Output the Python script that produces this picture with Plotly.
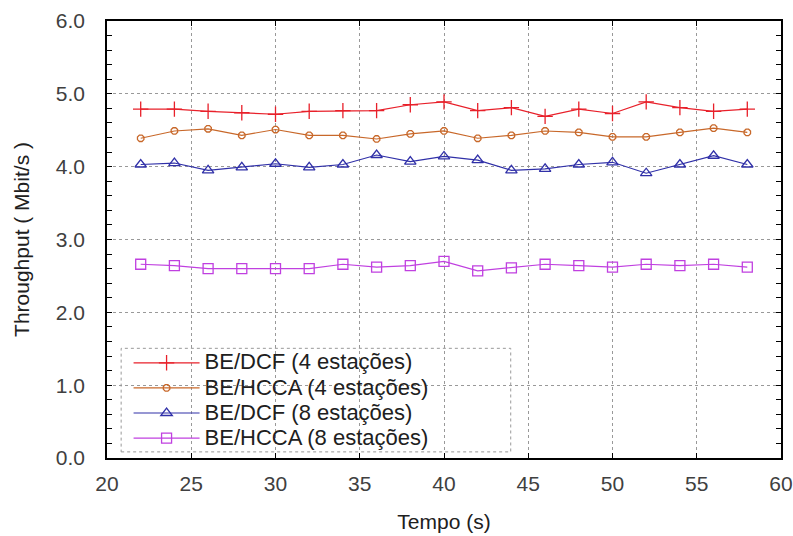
import plotly.graph_objects as go

tempo = [22, 24, 26, 28, 30, 32, 34, 36, 38, 40, 42, 44, 46, 48, 50, 52, 54, 56, 58]
dcf4 = [4.79, 4.79, 4.76, 4.74, 4.72, 4.76, 4.77, 4.77, 4.85, 4.89, 4.77, 4.81, 4.69, 4.79, 4.73, 4.89, 4.81, 4.76, 4.79]
hcca4 = [4.39, 4.49, 4.52, 4.43, 4.51, 4.43, 4.43, 4.38, 4.45, 4.49, 4.39, 4.43, 4.49, 4.47, 4.41, 4.41, 4.47, 4.53, 4.47]
dcf8 = [4.03, 4.05, 3.95, 3.99, 4.04, 3.99, 4.03, 4.16, 4.07, 4.14, 4.09, 3.95, 3.97, 4.03, 4.06, 3.91, 4.03, 4.15, 4.03]
hcca8 = [2.66, 2.64, 2.60, 2.60, 2.60, 2.60, 2.66, 2.62, 2.64, 2.70, 2.57, 2.61, 2.66, 2.64, 2.62, 2.66, 2.64, 2.66, 2.62]

names = ["BE/DCF (4 estações)", "BE/HCCA (4 estações)", "BE/DCF (8 estações)", "BE/HCCA (8 estações)"]
series = [dcf4, hcca4, dcf8, hcca8]
colors = ["#e8202a", "#c8682a", "#3030a8", "#c040e0"]
symbols = ["cross-thin-open", "octagon-open", "triangle-up-open", "square-open"]
sizes = [11, 7, 10, 10]

FONT = "Liberation Sans, Arial"

fig = go.Figure()
for n, s, c, sym, sz in zip(names, series, colors, symbols, sizes):
    fig.add_trace(go.Scatter(
        x=tempo, y=s, name="<span style='font-size:22px'>" + n + "</span>",
        mode="lines+markers",
        line=dict(color=c, width=1.2),
        marker=dict(symbol=sym, size=sz, color=c, line=dict(color=c, width=1.3)),
    ))

axis_common = dict(
    showline=True, linecolor="black", linewidth=1.5, mirror="ticks",
    ticks="inside", ticklen=5, tickcolor="black",
    showgrid=True, gridcolor="#999999", griddash="dot", gridwidth=1,
    zeroline=False, automargin=False,
    tickfont=dict(family=FONT, size=21, color="#404040"),
    title_font=dict(family=FONT, size=21, color="#202020"),
)

fig.update_xaxes(range=[20, 60], dtick=5, title_text="Tempo (s)", title_standoff=20,
                 ticklabelstandoff=6, **axis_common)
fig.update_yaxes(range=[0, 6], dtick=1, tickformat=".1f", title_text="Throughput ( Mbit/s )",
                 minor=dict(dtick=0.2, ticks="inside", ticklen=5, tickcolor="black", showgrid=False),
                 ticklabelstandoff=16, title_standoff=20, **axis_common)

fig.add_shape(type="rect", xref="paper", yref="paper", x0=0.021, x1=0.599, y0=0.014, y1=0.251,
              line=dict(color="#999999", width=1, dash="dot"), fillcolor="white", layer="below")

fig.update_layout(
    width=793, height=536,
    margin=dict(l=107, r=12, t=21, b=78),
    plot_bgcolor="white", paper_bgcolor="white",
    legend=dict(x=0.032, y=0.258, xanchor="left", yanchor="top",
                bgcolor="rgba(0,0,0,0)", borderwidth=0,
                font=dict(family=FONT, size=17, color="#202020"),
                itemwidth=66, tracegroupgap=0),
    showlegend=True,
)

fig.write_html("out.html")
